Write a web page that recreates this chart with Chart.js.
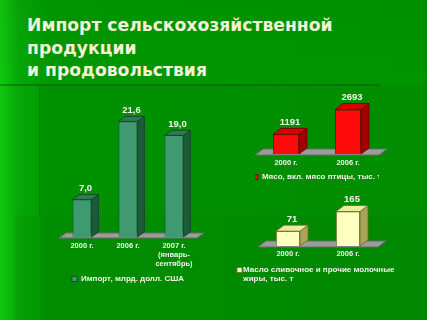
<!DOCTYPE html>
<html><head><meta charset="utf-8">
<script src="https://cdn.jsdelivr.net/npm/chart.js@4.4.1/dist/chart.umd.min.js"></script>
<style>
html,body{margin:0;padding:0;}
body{width:427px;height:320px;overflow:hidden;position:relative;
  background:linear-gradient(90deg,#12c812 0px,#06a806 18px,#009800 50px,#009400 100%);}
.abs{position:absolute;}
#title{left:27px;top:14px;font:bold 17.2px "DejaVu Sans",sans-serif;line-height:22.5px;color:#f2f2d6;white-space:nowrap;}
#topband{left:0;top:0;width:427px;height:85px;background:linear-gradient(180deg,rgba(0,70,0,0.06),rgba(0,0,0,0));}
#line{left:0;top:84px;width:380px;height:2px;background:rgba(0,60,0,0.35);}
#p1{left:40px;top:86px;width:387px;height:234px;background:rgba(0,50,0,0.07);}
#vl{left:39px;top:86px;width:1px;height:130px;background:rgba(0,60,0,0.25);}
#p2{left:15px;top:215px;width:412px;height:105px;background:rgba(0,60,0,0.06);}
canvas{position:absolute;}
</style></head>
<body>
<div class="abs" id="topband"></div>
<div class="abs" id="p1"></div>
<div class="abs" id="p2"></div>
<div class="abs" id="line"></div>
<div class="abs" id="vl"></div>
<div class="abs" id="title">Импорт сельскохозяйственной<br>продукции<br>и продовольствия</div>
<canvas id="cA" width="200" height="203" style="left:40px;top:90px;width:200px;height:203px"></canvas>
<canvas id="cB" width="192" height="108" style="left:235px;top:83px;width:192px;height:108px"></canvas>
<canvas id="cC" width="197" height="118" style="left:230px;top:190px;width:197px;height:118px"></canvas>
<script>
// ---- data ----
const importYears = [['2000 г.'], ['2006 г.'], ['2007 г.', '(январь-', 'сентябрь)']];
const importValues = [7.0, 21.6, 19.0];
const importLabel = 'Импорт, млрд. долл. США';

const meatYears = ['2000 г.', '2006 г.'];
const meatValues = [1191, 2693];
const meatLabel = 'Мясо, вкл. мясо птицы, тыс. т';

const butterYears = ['2000 г.', '2006 г.'];
const butterValues = [71, 165];
const butterLabel = ['Масло сливочное и прочие молочные', 'жиры, тыс. т'];

const TXT = '#f2f2ea';
const FONT = '"Liberation Sans", Arial, sans-serif';

// ---- 3D bar plugin ----
const bar3d = {
  id: 'bar3d',
  beforeDatasetsDraw(chart, args, o) {
    const {ctx, chartArea: a, scales: {y}} = chart;
    const base = y.getPixelForValue(0) + 1;
    ctx.save();
    ctx.fillStyle = o.floor; ctx.strokeStyle = o.floorEdge; ctx.lineWidth = 1;
    ctx.beginPath();
    ctx.moveTo(a.left, base); ctx.lineTo(a.right, base);
    ctx.lineTo(a.right + o.dx, base - o.dy); ctx.lineTo(a.left + o.dx, base - o.dy);
    ctx.closePath(); ctx.fill(); ctx.stroke();
    ctx.restore();
  },
  afterDatasetsDraw(chart, args, o) {
    const ctx = chart.ctx;
    const meta = chart.getDatasetMeta(0);
    const vals = chart.data.datasets[0].data;
    ctx.save();
    ctx.lineWidth = 0.8; ctx.strokeStyle = o.edge;
    meta.data.forEach((b, i) => {
      const {x, y, base, width} = b.getProps(['x', 'y', 'base', 'width'], true);
      const l = x - width / 2, r = x + width / 2;
      ctx.fillStyle = o.side;
      ctx.beginPath();
      ctx.moveTo(r, y); ctx.lineTo(r + o.dx, y - o.dy); ctx.lineTo(r + o.dx, base - o.dy); ctx.lineTo(r, base);
      ctx.closePath(); ctx.fill(); ctx.stroke();
      ctx.fillStyle = o.top;
      ctx.beginPath();
      ctx.moveTo(l, y); ctx.lineTo(l + o.dx, y - o.dy); ctx.lineTo(r + o.dx, y - o.dy); ctx.lineTo(r, y);
      ctx.closePath(); ctx.fill(); ctx.stroke();
      ctx.fillStyle = o.labelColor;
      ctx.font = 'bold 9.5px ' + FONT;
      ctx.textAlign = 'center'; ctx.textBaseline = 'middle';
      ctx.fillText(o.fmt(vals[i]), x + o.dx / 2, y - o.dy - 6);
    });
    ctx.restore();
  }
};

// ---- multi-line legend (for wrapped labels) ----
const lineLegend = {
  id: 'lineLegend',
  afterDraw(chart, args, o) {
    if (!o.show) return;
    const ctx = chart.ctx;
    const ds = chart.data.datasets[0];
    const lines = [].concat(ds.label);
    const y0 = chart.scales.x.bottom + o.dy;
    ctx.save();
    ctx.fillStyle = ds.backgroundColor; ctx.strokeStyle = ds.borderColor; ctx.lineWidth = 0.8;
    ctx.fillRect(o.x, y0 - 2.5, 5, 5); ctx.strokeRect(o.x, y0 - 2.5, 5, 5);
    ctx.fillStyle = TXT; ctx.font = 'bold 8px ' + FONT;
    ctx.textAlign = 'left'; ctx.textBaseline = 'middle';
    lines.forEach((t, i) => ctx.fillText(t, o.x + 6, y0 + i * 9.2));
    ctx.restore();
  }
};

function makeChart(id, labels, values, label, colors, geo) {
  return new Chart(document.getElementById(id), {
    type: 'bar',
    data: {labels, datasets: [{label, data: values, backgroundColor: colors.front,
      borderColor: colors.edge, borderWidth: 0.8, categoryPercentage: 1, barPercentage: geo.bar}]},
    plugins: [bar3d, lineLegend],
    options: {
      responsive: false, animation: false, devicePixelRatio: 1,
      layout: {padding: geo.pad},
      scales: {
        x: {grid: {display: false, drawTicks: false}, border: {display: false},
            ticks: {color: TXT, padding: geo.tickPad, maxRotation: 0, autoSkip: false,
                    font: {family: FONT, size: 7.5, weight: 'bold', lineHeight: 1.2}}},
        y: {display: false, min: 0, max: geo.max}
      },
      plugins: {
        tooltip: {enabled: false},
        legend: {display: !geo.custom, position: 'bottom', align: 'center',
          labels: {boxWidth: 5, boxHeight: 5, padding: geo.legPad, color: TXT,
            font: {family: FONT, size: 8, weight: 'bold'}}},
        lineLegend: {show: !!geo.custom, x: geo.legX, dy: geo.legDy},
        bar3d: {dx: geo.dx, dy: geo.dy, side: colors.side, top: colors.top, edge: colors.edge,
          floor: '#9c9c9c', floorEdge: '#6a6a6a', labelColor: '#f4f4ea', fmt: geo.fmt}
      }
    }
  });
}

makeChart('cA', importYears, importValues, importLabel,
  {front: '#3f9a72', side: '#1d5a3b', top: '#2e7a56', edge: '#15402a'},
  {pad: {top: 10, left: 19, right: 43, bottom: 0}, max: 25.6, bar: 0.41, tickPad: 4, legPad: 3,
   dx: 7, dy: 5, fmt: v => v.toFixed(1).replace('.', ',')});

makeChart('cB', meatYears, meatValues, meatLabel,
  {front: '#ff0a0a', side: '#a40000', top: '#d80000', edge: '#6a0000'},
  {pad: {top: 10, left: 20, right: 48, bottom: 0}, max: 3700, bar: 0.42, tickPad: 4, legPad: 2,
   dx: 8, dy: 6, fmt: v => String(v)});

makeChart('cC', butterYears, butterValues, butterLabel,
  {front: '#ffffc0', side: '#a8a458', top: '#ecec9c', edge: '#6e6a30'},
  {pad: {top: 10, left: 28, right: 49, bottom: 47}, max: 220, bar: 0.40, tickPad: 3,
   custom: true, legX: 7, legDy: 9,
   dx: 8, dy: 6, fmt: v => String(v)});
</script>
</body></html>
